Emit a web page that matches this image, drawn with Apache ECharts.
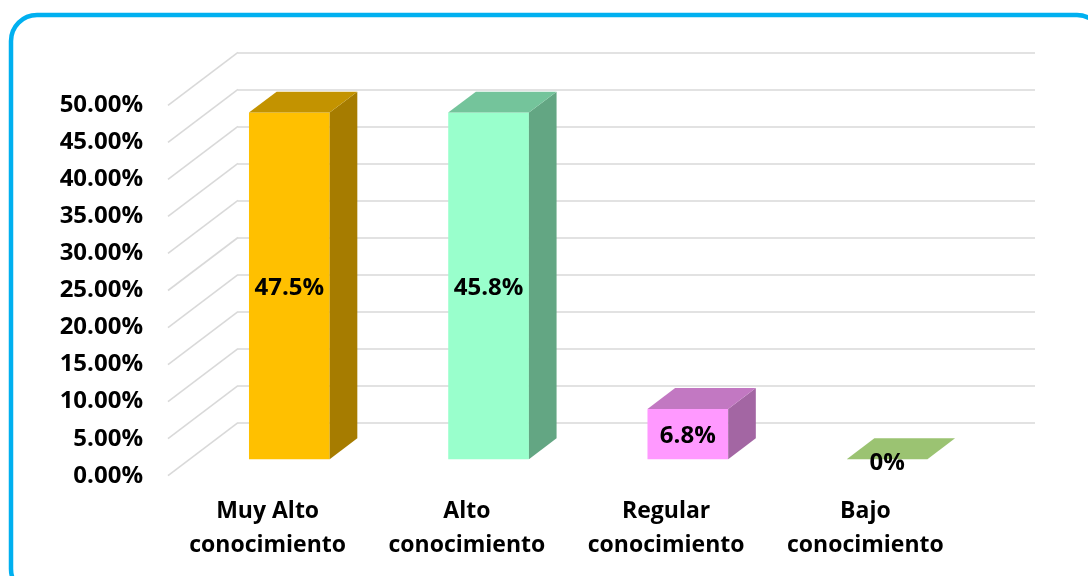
<!DOCTYPE html>
<html>
<head>
<meta charset="utf-8">
<script src="https://cdn.jsdelivr.net/npm/echarts@6/dist/echarts.min.js"></script>
<style>
html,body{margin:0;padding:0;background:#fff;}
#chart{width:1088px;height:576px;}
</style>
</head>
<body>
<div id="chart"></div>
<script>
// ---- data ----
const categories = ['Muy Alto\nconocimiento', 'Alto\nconocimiento', 'Regular\nconocimiento', 'Bajo\nconocimiento'];
const values = [46.8, 46.8, 6.8, 0];            // bar heights as drawn
const valueLabels = ['47.5%', '45.8%', '6.8%', '0%']; // data label texts
const yTicks = [0, 5, 10, 15, 20, 25, 30, 35, 40, 45, 50];
const frontColors = ['#FFC000', '#99FFCC', '#FF99FF', '#9BC372'];
const topColors   = ['#C39300', '#74C49B', '#C278C2', '#9BC372'];
const sideColors  = ['#A67C00', '#63A683', '#A366A3', '#7FA35C'];

// ---- layout ----
const FRONT = {left: 168, top: 105.3, width: 797, height: 370.4};
const BACK  = {left: 238, top: 52.3,  width: 797, height: 370.4};
const DX = BACK.left - FRONT.left;
const DY = BACK.top - FRONT.top;
const T_FRONT = 0.31, T_BACK = 0.705, BAR_W = 0.405;
const FONT = '"Open Sans", "Liberation Sans", sans-serif';
const GRID_COLOR = '#D9D9D9';

const chart = echarts.init(document.getElementById('chart'), null, {renderer: 'canvas'});

function barItem(params, api) {
  const i = api.value(0), v = api.value(1);
  const band = api.size([1, 0])[0];
  const w = band * BAR_W;
  const p0 = api.coord([i, 0]);
  const p1 = api.coord([i, v]);
  const fx = p0[0] + T_FRONT * DX, fy = T_FRONT * DY;
  const bx = p0[0] + T_BACK * DX, by = T_BACK * DY;
  const FL = fx - w / 2, FR = fx + w / 2, BL = bx - w / 2, BR = bx + w / 2;
  const fBot = p0[1] + fy, fTop = p1[1] + fy;
  const bBot = p0[1] + by, bTop = p1[1] + by;
  const children = [];
  if (v > 0) {
    children.push({type: 'rect', shape: {x: FL, y: fTop, width: w, height: fBot - fTop},
      style: {fill: frontColors[i]}});
    children.push({type: 'polygon', shape: {points: [[FR, fTop], [BR, bTop], [BR, bBot], [FR, fBot]]},
      style: {fill: sideColors[i]}});
  }
  children.push({type: 'polygon', shape: {points: [[FL, fTop], [FR, fTop], [BR, bTop], [BL, bTop]]},
    style: {fill: topColors[i]}});
  children.push({type: 'text', style: {
    text: valueLabels[i], x: fx, y: (fTop + fBot) / 2 + (v > 0 ? 2 : 4),
    fill: '#000', font: 'bold 24px ' + FONT, align: 'center', verticalAlign: 'middle',
    textAlign: 'center', textVerticalAlign: 'middle'}});
  return {type: 'group', children: children};
}

function diagItem(params, api) {
  const v = api.value(1);
  const band = api.size([1, 0])[0];
  const p = api.coord([0, v]);
  const x0 = p[0] - band / 2;
  return {type: 'line', shape: {x1: x0, y1: p[1], x2: x0 + DX, y2: p[1] + DY},
    style: {stroke: GRID_COLOR, lineWidth: 1.6}};
}

chart.setOption({
  animation: false,
  backgroundColor: '#fff',
  graphic: [{
    type: 'rect', z: 100,
    shape: {x: 11, y: 15, width: 1092, height: 580, r: 26},
    style: {fill: 'none', stroke: '#00B0F0', lineWidth: 4.5}
  }],
  grid: [
    Object.assign({containLabel: false}, FRONT),
    Object.assign({containLabel: false}, BACK)
  ],
  xAxis: [{
    type: 'category', gridIndex: 0, data: categories,
    axisLine: {show: false}, axisTick: {show: false}, splitLine: {show: false},
    axisLabel: {color: '#000', fontFamily: FONT, fontWeight: 'bold', fontSize: 23,
      lineHeight: 34, margin: 19, interval: 0}
  }, {
    type: 'category', gridIndex: 1, data: categories, show: false
  }],
  yAxis: [{
    type: 'value', gridIndex: 0, min: 0, max: 50, interval: 5,
    axisLine: {show: false}, axisTick: {show: false}, splitLine: {show: false},
    axisLabel: {color: '#000', fontFamily: FONT, fontWeight: 'bold', fontSize: 24, margin: 25,
      padding: [5, 0, 0, 0],
      formatter: v => v.toFixed(2) + '%'}
  }, {
    type: 'value', gridIndex: 1, min: 0, max: 50, interval: 5,
    axisLine: {show: false}, axisTick: {show: false}, axisLabel: {show: false},
    splitLine: {show: true, lineStyle: {color: GRID_COLOR, width: 1.6}}
  }],
  series: [{
    type: 'custom', xAxisIndex: 0, yAxisIndex: 0, clip: false, silent: true,
    renderItem: diagItem,
    data: yTicks.map(t => [0, t])
  }, {
    type: 'custom', xAxisIndex: 0, yAxisIndex: 0, clip: false, silent: true,
    renderItem: barItem,
    data: values.map((v, i) => [i, v]),
    z: 5
  }]
});
</script>
</body>
</html>
